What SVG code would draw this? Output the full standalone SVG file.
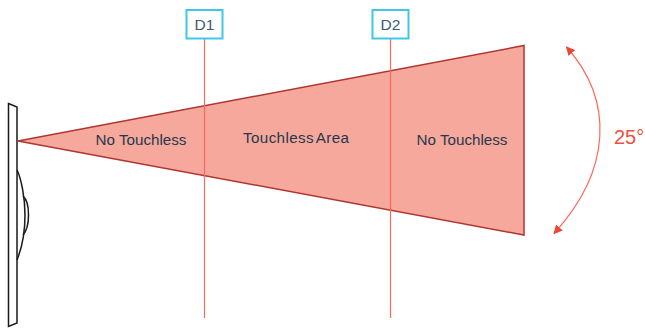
<svg xmlns="http://www.w3.org/2000/svg" width="645" height="328" viewBox="0 0 645 328">
<style>
text{font-family:"Liberation Sans",Arial,sans-serif}
.lbl{font-size:15.200px;fill:#26384c;text-anchor:middle}
.box{fill:#fff;stroke:#3fc8e6;stroke-width:2}
.boxt{font-size:15.500px;fill:#3d5a75;text-anchor:middle}
.ln{stroke:#fa6a5c;stroke-width:1.200;fill:none}
</style>
<defs>
<marker id="ah" viewBox="0 0 10 10" refX="9" refY="5" markerWidth="9" markerHeight="9" markerUnits="userSpaceOnUse" orient="auto-start-reverse"><path d="M0 0L10 5L0 10Z" fill="#f0452f"/></marker>
</defs>
<rect width="645" height="328" fill="#fff"/>
<g id="device" fill="none" stroke="#1a1a1a" stroke-width="1.500">
<path d="M8.500 103.500L17 107V323L8.500 326.500Z" fill="#fff"/>
<path d="M17 170C21 178 25 197 25 215C25 233 21 250 17 260"/>
<path d="M23 196C26.500 199 28.500 207 28.500 215C28.500 223 26.500 231 23 235"/>
</g>
<g id="cone">
<path d="M18 141L524 45.500V235Z" fill="#f7a89c" stroke="#ae3630" stroke-width="1.500" stroke-linejoin="miter"/>
<text class="lbl" x="141" y="145">No Touchless</text>
<text class="lbl" x="296" y="143" textLength="106" word-spacing="-2">Touchless Area</text>
<text class="lbl" x="462" y="145">No Touchless</text>
</g>
<g id="connectors">
<path class="ln" d="M204.500 39V318"/>
<path class="ln" d="M390.500 38V318"/>
<path d="M566.500 47C614 100 612 170 554 233.500" fill="none" stroke="#fa6a5c" stroke-width="1.200" marker-start="url(#ah)" marker-end="url(#ah)"/>
</g>
<g id="d1">
<rect class="box" x="186.500" y="10" width="36" height="28.500"/>
<text class="boxt" x="204.500" y="30">D1</text>
</g>
<g id="d2">
<rect class="box" x="372.500" y="10" width="36" height="28.500"/>
<text class="boxt" x="390.500" y="30">D2</text>
</g>
<text x="614" y="144" font-size="20" fill="#f0503c">25°</text>
</svg>
